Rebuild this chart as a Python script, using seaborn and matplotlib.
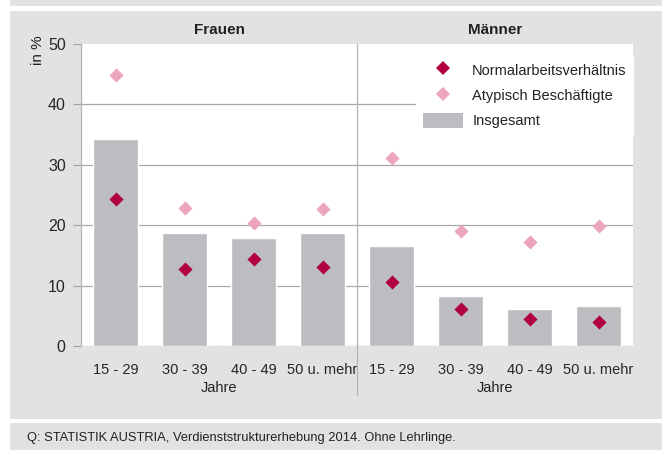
import pandas as pd
import seaborn as sns
import matplotlib.pyplot as plt
from matplotlib.patches import Rectangle, Patch
from matplotlib.lines import Line2D
from matplotlib import font_manager

# Werte (in %)
groups = ['Frauen', 'Männer']
ages = ['15 - 29', '30 - 39', '40 - 49', '50 u. mehr']
insgesamt_frauen = [34.3, 18.7, 17.9, 18.7]
insgesamt_maenner = [16.6, 8.3, 6.1, 6.7]
normal_frauen = [24.3, 12.7, 14.4, 13.0]
normal_maenner = [10.6, 6.1, 4.5, 4.0]
atypisch_frauen = [44.9, 22.9, 20.4, 22.6]
atypisch_maenner = [31.1, 19.0, 17.3, 19.8]
y_ticks = [0, 10, 20, 30, 40, 50]
source_note = 'Q: STATISTIK AUSTRIA, Verdienststrukturerhebung 2014. Ohne Lehrlinge.'

PANEL_GREY = '#e1e2e4'
BAR_GREY = '#bcbdc1'
DARK_RED = '#b0003f'
PINK = '#eba5bc'
GRID_GREY = '#a9a9a9'

sns.set_theme(style='white')
installed = {f.name for f in font_manager.fontManager.ttflist}
main_font = 'Liberation Sans Narrow' if 'Liberation Sans Narrow' in installed else 'Liberation Sans'
plt.rcParams['font.family'] = [main_font, 'DejaVu Sans']
plt.rcParams['text.color'] = '#222222'

# long-form table, one row per group/age
df = pd.DataFrame({
    'group': [g for g in groups for _ in ages],
    'age': ages * 2,
    'insgesamt': insgesamt_frauen + insgesamt_maenner,
    'normal': normal_frauen + normal_maenner,
    'atypisch': atypisch_frauen + atypisch_maenner,
})
df['key'] = df['group'] + ' ' + df['age']
order = list(df['key'])

fig = plt.figure(figsize=(6.62, 4.5), dpi=100, facecolor='white')
W, H = 662, 450

# grey background bands
fig.add_artist(Rectangle((10 / W, 1 - 5.5 / H), 652 / W, 5.5 / H, transform=fig.transFigure,
                         facecolor=PANEL_GREY, edgecolor='none', zorder=-10))
fig.add_artist(Rectangle((10 / W, 1 - 419 / H), 652 / W, 408 / H, transform=fig.transFigure,
                         facecolor=PANEL_GREY, edgecolor='none', zorder=-10))
fig.add_artist(Rectangle((10 / W, 0), 652 / W, 27 / H, transform=fig.transFigure,
                         facecolor=PANEL_GREY, edgecolor='none', zorder=-10))

ax = fig.add_axes([81 / W, 1 - 346 / H, 552 / W, 302 / H])
ax.set_facecolor('white')

sns.barplot(data=df, x='key', y='insgesamt', order=order, color=BAR_GREY,
            width=0.65, saturation=1, ax=ax, zorder=2)
sns.stripplot(data=df, x='key', y='atypisch', order=order, color=PINK, marker='D',
              size=7.2, linewidth=0, jitter=False, ax=ax, zorder=3)
sns.stripplot(data=df, x='key', y='normal', order=order, color=DARK_RED, marker='D',
              size=7.2, linewidth=0, jitter=False, ax=ax, zorder=3)

ax.set_xlim(-0.5, len(order) - 0.5)
ax.set_ylim(0, 50)
ax.set_yticks(y_ticks)
ax.set_xticks(range(len(order)))
ax.set_xticklabels(ages * 2, fontsize=10.5)
ax.set_xlabel('')
ax.set_ylabel('')
ax.tick_params(axis='x', length=0, pad=12)
ax.tick_params(axis='y', length=6, width=0.8, color='#a0a0a0', pad=5, labelsize=11.5, left=True)

ax.set_axisbelow(True)
ax.yaxis.grid(True, color=GRID_GREY, linewidth=0.9)
ax.get_ygridlines()[-1].set_visible(False)
for side in ['top', 'right', 'bottom']:
    ax.spines[side].set_visible(False)
ax.spines['left'].set_color('#b4b4b4')
ax.spines['left'].set_linewidth(0.9)

# divider between the two panels
ax.axvline(3.5, ymin=-0.163, ymax=1, color='#b4b4b4', linewidth=0.9, clip_on=False, zorder=1)

trans = ax.get_xaxis_transform()
for i, g in enumerate(groups):
    mid = i * len(ages) + (len(ages) - 1) / 2
    ax.text(mid, 1.047, g, transform=trans, ha='center', va='center',
            fontsize=11, fontweight='bold')
    ax.text(mid, -0.139, 'Jahre', transform=trans, ha='center', va='center', fontsize=10.5)

fig.text(38 / W, 1 - 50 / H, 'in %', rotation=90, ha='center', va='center', fontsize=11)

handles = [
    Line2D([], [], marker='D', color=DARK_RED, linestyle='', markersize=7.2, markeredgewidth=0),
    Line2D([], [], marker='D', color=PINK, linestyle='', markersize=7.2, markeredgewidth=0),
    Patch(facecolor=BAR_GREY, edgecolor='none'),
]
leg = ax.legend(handles, ['Normalarbeitsverhältnis', 'Atypisch Beschäftigte', 'Insgesamt'],
                loc='upper right', bbox_to_anchor=(634 / W, 1 - 55 / H),
                bbox_transform=fig.transFigure, borderaxespad=0, frameon=True,
                fancybox=False, framealpha=1, facecolor='white', edgecolor='none',
                fontsize=10.5, handlelength=2.75, handleheight=1.2, handletextpad=0.6,
                labelspacing=0.68, borderpad=0.5)
leg.set_zorder(5)

fig.text(27 / W, 1 - 438 / H, source_note, ha='left', va='center', fontsize=9.3)

fig.savefig('out.png', dpi=100, facecolor='white')
